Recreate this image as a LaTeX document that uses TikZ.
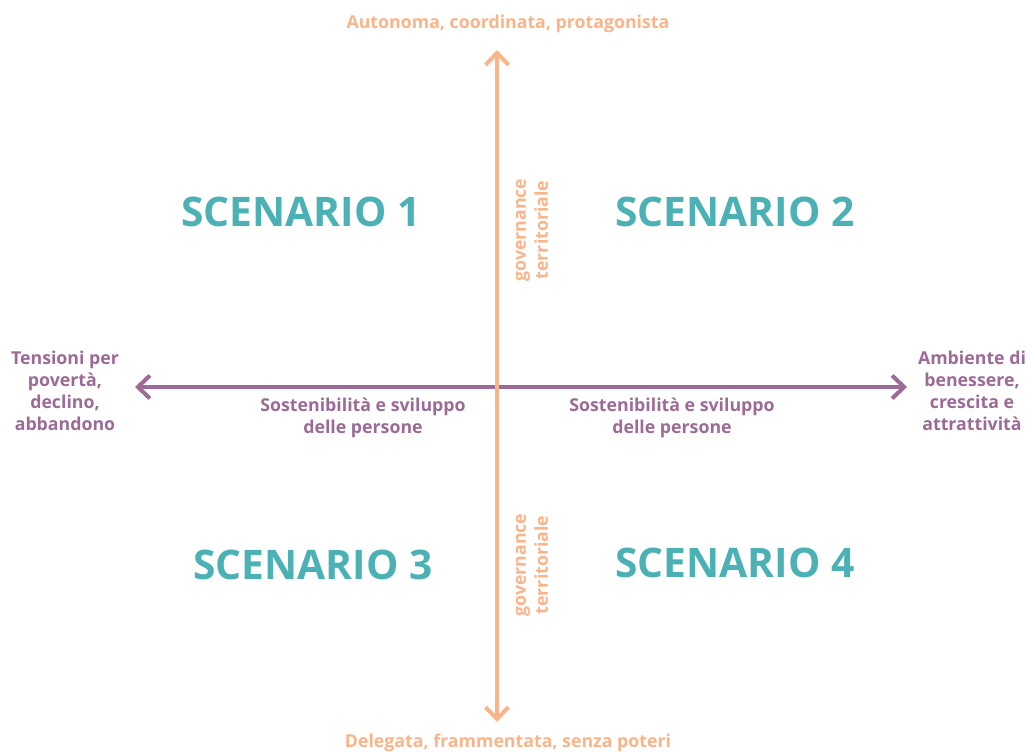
\documentclass[tikz,border=0pt]{standalone}
\usepackage{fontspec}
\setmainfont{Open Sans}
\usetikzlibrary{arrows.meta}
\definecolor{pesca}{HTML}{F9B48A}
\definecolor{viola}{HTML}{9C6A97}
\definecolor{ottanio}{HTML}{4BB1B5}
\begin{document}
\begin{tikzpicture}[x=0.02cm,y=-0.02cm,
    asse/.style={line width=2.3pt,line cap=round,-{Straight Barb[length=2.4mm,width=4.6mm,line width=2.3pt]}},
    polo/.style={font=\bfseries\fontsize{10.1}{12.5}\selectfont,align=center,inner sep=0pt},
    scenario/.style={font=\bfseries\fontsize{23.2}{26}\selectfont,text=ottanio,inner sep=0pt}]

        \useasboundingbox (0,0) rectangle (1027,751);

        \coordinate (centro) at (497,387);
        \coordinate (nord) at (497,50);
        \coordinate (sud) at (497,722);
        \coordinate (ovest) at (135,387);
        \coordinate (est) at (907,387);

        \draw[asse,viola] (centro) -- (ovest);
        \draw[asse,viola] (centro) -- (est);
        \draw[asse,pesca] (centro) -- (nord);
        \draw[asse,pesca] (centro) -- (sud);

        \node[polo,text=pesca] (alto) at (508,24) {Autonoma, coordinata, protagonista};
        \node[polo,text=pesca] (basso) at (508,743) {Delegata, frammentata, senza poteri};
        \node[polo,text=viola] (sinistra) at (65,391) {Tensioni per\\povertà,\\declino,\\abbandono};
        \node[polo,text=viola] (destra) at (972,391) {Ambiente di\\benessere,\\crescita e\\attrattività};
        \node[polo,text=viola] (persone1) at (363,418) {Sostenibilità e sviluppo\\delle persone};
        \node[polo,text=viola] (persone2) at (672,418) {Sostenibilità e sviluppo\\delle persone};
        \node[polo,text=pesca,rotate=90] (governance1) at (532,230) {governance\\territoriale};
        \node[polo,text=pesca,rotate=90] (governance2) at (532,565) {governance\\territoriale};

        \node[scenario] (s1) at (301,212) {SCENARIO 1};
        \node[scenario] (s2) at (735,212) {SCENARIO 2};
        \node[scenario] (s3) at (313,565) {SCENARIO 3};
        \node[scenario] (s4) at (735,563) {SCENARIO 4};
\end{tikzpicture}
\end{document}
